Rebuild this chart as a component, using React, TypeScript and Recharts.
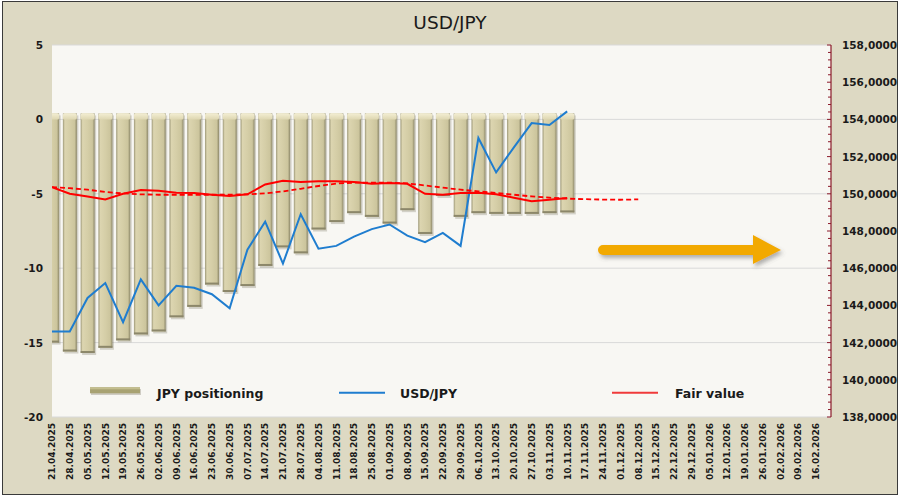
import React from 'react';
import { ComposedChart, Bar, Line, XAxis, YAxis, CartesianGrid, Legend } from 'recharts';

const dates = [
  '21.04.2025', '28.04.2025', '05.05.2025', '12.05.2025', '19.05.2025', '26.05.2025',
  '02.06.2025', '09.06.2025', '16.06.2025', '23.06.2025', '30.06.2025', '07.07.2025',
  '14.07.2025', '21.07.2025', '28.07.2025', '04.08.2025', '11.08.2025', '18.08.2025',
  '25.08.2025', '01.09.2025', '08.09.2025', '15.09.2025', '22.09.2025', '29.09.2025',
  '06.10.2025', '13.10.2025', '20.10.2025', '27.10.2025', '03.11.2025', '10.11.2025',
  '17.11.2025', '24.11.2025', '01.12.2025', '08.12.2025', '15.12.2025', '22.12.2025',
  '29.12.2025', '05.01.2026', '12.01.2026', '19.01.2026', '26.01.2026', '02.02.2026',
  '09.02.2026', '16.02.2026',
];

const jpyPositioning = [
  -15.0, -15.6, -15.7, -15.35, -14.85, -14.45, -14.25, -13.3, -12.6, -11.1,
  -11.6, -11.2, -9.85, -8.6, -9.0, -7.4, -6.9, -6.3, -6.55, -7.0,
  -6.1, -7.7, -5.15, -6.55, -6.3, -6.35, -6.35, -6.35, -6.3, -6.25,
];

const usdJpy = [
  142.6, 142.6, 144.4, 145.2, 143.1, 145.4, 144.0, 145.05, 144.95, 144.6,
  143.85, 147.0, 148.5, 146.25, 148.9, 147.05, 147.2, 147.7, 148.1, 148.35,
  147.75, 147.4, 147.9, 147.2, 153.0, 151.15, 152.5, 153.8, 153.7, 154.43,
];

const fairValue = [
  150.36, 150.0, 149.85, 149.7, 150.0, 150.2, 150.17, 150.06, 150.04, 149.95,
  149.88, 149.97, 150.5, 150.7, 150.63, 150.68, 150.68, 150.63, 150.54, 150.58,
  150.54, 150.0, 149.95, 150.04, 150.06, 149.97, 149.79, 149.6, 149.68, 149.77,
];

const fairTrend = [
  150.36, 150.3, 150.22, 150.1, 150.02, 149.97, 149.95, 149.95, 149.95, 149.95,
  149.95, 149.97, 150.02, 150.13, 150.27, 150.42, 150.55, 150.6, 150.6, 150.6,
  150.56, 150.45, 150.33, 150.22, 150.13, 150.04, 149.95, 149.86, 149.79, 149.74,
  149.71, 149.69, 149.68, 149.7,
];

const leftTicks = [-20, -15, -10, -5, 0, 5];
const rightMajorTicks = [138, 140, 142, 144, 146, 148, 150, 152, 154, 156, 158];
const rightTicks = Array.from({ length: 51 }, (_, i) => Math.round((138 + i * 0.4) * 10) / 10);

const data = dates.map((date, i) => ({
  idx: i,
  date,
  pos: jpyPositioning[i] ?? null,
  usd: usdJpy[i] ?? null,
  fair: fairValue[i] ?? null,
  trend: fairTrend[i] ?? null,
}));

const FONT = '"DejaVu Sans", Verdana, sans-serif';
const BLUE = '#1F7DCF';
const RED = '#FF0000';
const AXIS_RED = '#8B1A2A';

const BarShape = (props: any) => {
  const { x, y, width, height } = props;
  if (x == null || y == null || !height) return null;
  const top = Math.min(y, y + height);
  const h = Math.abs(height);
  const cap = 6;
  return (
    <g>
      <rect x={x + 1.5} y={top - cap + 2} width={width} height={h + cap} fill="#6f6b55" opacity={0.28} />
      <rect x={x} y={top - cap} width={width} height={h + cap} fill="url(#barGrad)" />
      <rect x={x} y={top - cap} width={width} height={cap} fill="url(#capGrad)" rx={1.5} />
      <rect x={x} y={top + h - 2} width={width} height={2} fill="#8c876a" />
    </g>
  );
};

const DateTick = (props: any) => {
  const { x, y, payload } = props;
  const label = dates[payload.value];
  if (!label) return null;
  return (
    <text
      transform={`translate(${x},${y}) rotate(-90)`}
      x={0}
      y={0}
      dy={3.3}
      textAnchor="end"
      fontFamily={FONT}
      fontWeight="bold"
      fontSize={9}
      fill="#1a1a1a"
    >
      {label}
    </text>
  );
};

const LeftTick = (props: any) => {
  const { x, y, payload } = props;
  return (
    <text x={x} y={y} dy={4} textAnchor="end" fontFamily={FONT} fontWeight="bold" fontSize={10.5} fill="#1a1a1a">
      {payload.value}
    </text>
  );
};

const RightTick = (props: any) => {
  const { x, y, payload } = props;
  const v = payload.value;
  const isMajor = rightMajorTicks.some((m) => Math.abs(m - v) < 1e-6);
  const axisX = x - 11;
  return (
    <g>
      <line x1={axisX - (isMajor ? 4 : 3)} x2={axisX} y1={y} y2={y} stroke={AXIS_RED} strokeWidth={1} />
      {isMajor && (
        <text x={x} y={y} dy={4} textAnchor="start" fontFamily={FONT} fontWeight="bold" fontSize={10.5} fill="#1a1a1a">
          {v.toFixed(4).replace('.', ',')}
        </text>
      )}
    </g>
  );
};

const legendPos: Record<string, { sx: number; tx: number }> = {
  pos: { sx: 90, tx: 157 },
  usd: { sx: 339, tx: 400 },
  fair: { sx: 612, tx: 675 },
};

const LegendContent = (props: any) => {
  const payload = (props.payload || []).filter((p: any) => legendPos[p.dataKey]);
  return (
    <svg width={900} height={30} style={{ display: 'block', overflow: 'visible' }}>
      {payload.map((p: any) => {
        const pos = legendPos[p.dataKey];
        return (
          <g key={p.dataKey}>
            {p.dataKey === 'pos' ? (
              <g>
                <rect x={pos.sx + 1} y={11} width={50} height={6} fill="#6f6b55" opacity={0.3} />
                <rect x={pos.sx} y={9.3} width={50} height={6} fill="#A8A272" />
                <rect x={pos.sx} y={9.3} width={50} height={2} fill="#C4BE8E" />
              </g>
            ) : (
              <line
                x1={pos.sx}
                x2={pos.sx + 46}
                y1={14.7}
                y2={14.7}
                stroke={p.dataKey === 'usd' ? BLUE : '#F03A3A'}
                strokeWidth={2}
              />
            )}
            <text x={pos.tx} y={20} fontFamily={FONT} fontWeight="bold" fontSize={12.5} fill="#1a1a1a">
              {p.value}
            </text>
          </g>
        );
      })}
    </svg>
  );
};

export default function App() {
  return (
    <div style={{ position: 'absolute', left: 0, top: 0, width: 900, height: 496, background: '#ffffff', overflow: 'hidden' }}>
      <div
        style={{
          position: 'absolute',
          left: 2,
          top: 1,
          width: 894,
          height: 492,
          background: '#DDD9C3',
          border: '1px solid #3a3a3a',
        }}
      />
      <svg width={0} height={0} style={{ position: 'absolute' }}>
        <defs>
          <linearGradient id="barGrad" x1="0" y1="0" x2="1" y2="0">
            <stop offset="0" stopColor="#9d9878" />
            <stop offset="0.14" stopColor="#DCD5B0" />
            <stop offset="0.5" stopColor="#D5CEA7" />
            <stop offset="0.84" stopColor="#CCC59D" />
            <stop offset="1" stopColor="#8d8869" />
          </linearGradient>
          <linearGradient id="capGrad" x1="0" y1="0" x2="0" y2="1">
            <stop offset="0" stopColor="#F3EED3" />
            <stop offset="1" stopColor="#DED7B2" />
          </linearGradient>
          <filter id="arrowShadow" x="-10%" y="-50%" width="120%" height="200%">
            <feDropShadow dx="2" dy="3" stdDeviation="2" floodColor="#555" floodOpacity="0.45" />
          </filter>
        </defs>
      </svg>
      <div style={{ position: 'absolute', left: 0, top: 0 }}>
        <ComposedChart width={900} height={496} data={data} margin={{ top: 45, right: 0, bottom: 0, left: 0 }}>
          <CartesianGrid yAxisId="left" vertical={false} stroke="#D9D9D9" fill="#F8F7F3" />
          <XAxis
            dataKey="idx"
            type="number"
            domain={[0, 43.85]}
            ticks={dates.map((_, i) => i)}
            interval={0}
            allowDataOverflow
            height={79}
            tickSize={0}
            tickMargin={6}
            axisLine={false}
            tickLine={false}
            tick={<DateTick />}
          />
          <YAxis
            yAxisId="left"
            domain={[-20, 5]}
            ticks={leftTicks}
            width={52}
            tickSize={0}
            tickMargin={9}
            axisLine={false}
            tickLine={false}
            tick={<LeftTick />}
            interval={0}
          />
          <YAxis
            yAxisId="right"
            orientation="right"
            domain={[138, 158]}
            ticks={rightTicks}
            width={69}
            tickSize={0}
            tickMargin={11}
            axisLine={{ stroke: AXIS_RED, strokeWidth: 1.2 }}
            tickLine={false}
            tick={<RightTick />}
            interval={0}
          />
          <Legend
            verticalAlign="middle"
            align="center"
            layout="horizontal"
            wrapperStyle={{ position: 'absolute', top: 378, left: 0, width: 900, height: 30 }}
            content={<LegendContent />}
          />
          <Bar
            yAxisId="left"
            dataKey="pos"
            name="JPY positioning"
            fill="#C9C29A"
            barSize={14}
            shape={<BarShape />}
            isAnimationActive={false}
          />
          <Line
            yAxisId="right"
            dataKey="usd"
            name="USD/JPY"
            stroke={BLUE}
            strokeWidth={2}
            dot={false}
            activeDot={false}
            isAnimationActive={false}
          />
          <Line
            yAxisId="right"
            dataKey="trend"
            name="Fair value trend"
            stroke={RED}
            strokeWidth={1.8}
            strokeDasharray="5 3"
            dot={false}
            activeDot={false}
            legendType="none"
            isAnimationActive={false}
          />
          <Line
            yAxisId="right"
            dataKey="fair"
            name="Fair value"
            stroke={RED}
            strokeWidth={2}
            dot={false}
            activeDot={false}
            isAnimationActive={false}
          />
        </ComposedChart>
      </div>
      <svg width={900} height={496} style={{ position: 'absolute', left: 0, top: 0, pointerEvents: 'none' }}>
        <text x={450} y={29} textAnchor="middle" fontFamily={FONT} fontSize={18.5} fill="#1a1a1a">
          USD/JPY
        </text>
        <g filter="url(#arrowShadow)">
          <path
            d="M603 245 L753 245 L753 235 L781 250 L753 264 L753 255 L603 255 A5 5 0 0 1 603 245 Z"
            fill="#F2A900"
          />
        </g>
      </svg>
    </div>
  );
}
